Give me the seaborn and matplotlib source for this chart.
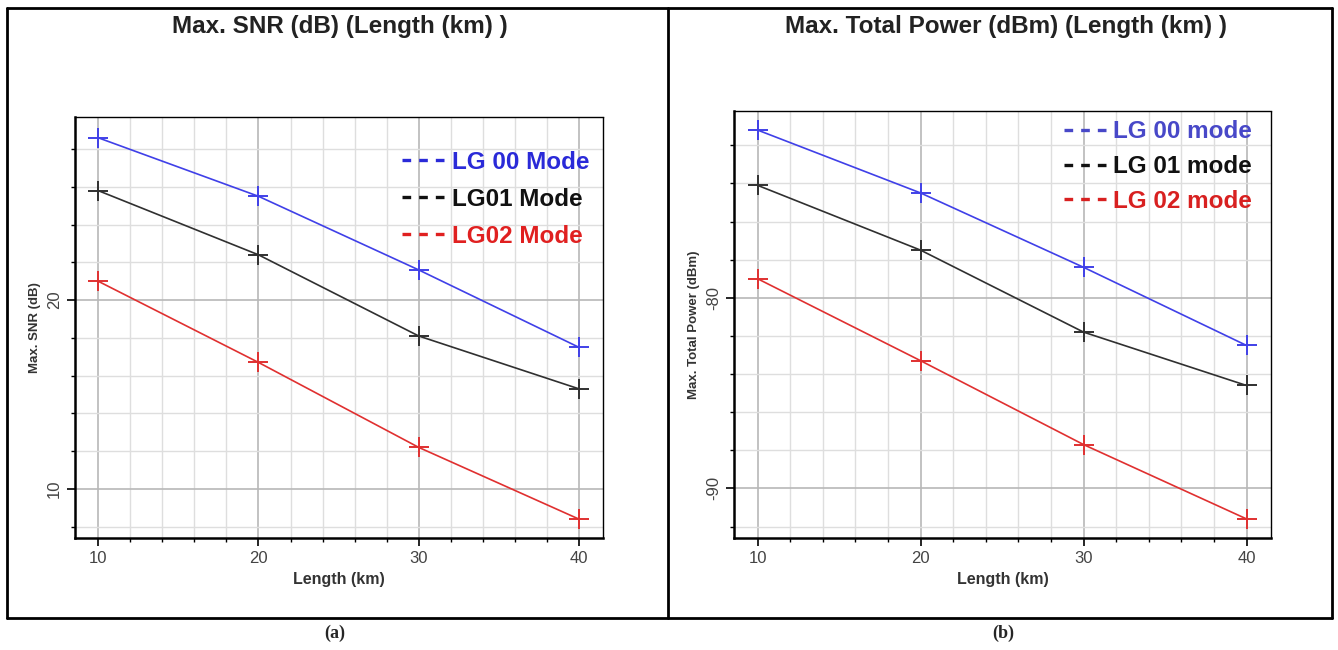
import numpy as np
import pandas as pd
import seaborn as sns
import matplotlib
matplotlib.use("Agg")
import matplotlib.pyplot as plt
from matplotlib.lines import Line2D
from matplotlib.ticker import MultipleLocator

sns.set_theme(style="white")
plt.rcParams['font.family'] = ['Liberation Sans', 'DejaVu Sans']
plt.rcParams['axes.unicode_minus'] = False

lengths = [10, 20, 30, 40]
snr_lg00 = [28.6, 25.5, 21.6, 17.5]
snr_lg01 = [25.8, 22.4, 18.1, 15.3]
snr_lg02 = [21.0, 16.7, 12.2, 8.4]
pow_lg00 = [-71.2, -74.5, -78.4, -82.5]
pow_lg01 = [-74.1, -77.5, -81.8, -84.6]
pow_lg02 = [-79.0, -83.3, -87.7, -91.6]
labels_a = ["LG 00 Mode", "LG01 Mode", "LG02 Mode"]
labels_b = ["LG 00 mode", "LG 01 mode", "LG 02 mode"]
series_keys = ["LG00", "LG01", "LG02"]
line_colors = {"LG00": "#4040e8", "LG01": "#303030", "LG02": "#e03030"}
legend_colors_a = ["#2a2ad8", "#111111", "#e02020"]
legend_colors_b = ["#4848c8", "#111111", "#d82020"]

def make_df(vals):
    rows = []
    for key, v in zip(series_keys, vals):
        for x, y in zip(lengths, v):
            rows.append({"Length": x, "Value": y, "Mode": key})
    return pd.DataFrame(rows)

df_a = make_df([snr_lg00, snr_lg01, snr_lg02])
df_b = make_df([pow_lg00, pow_lg01, pow_lg02])

fig = plt.figure(figsize=(13.38, 6.5), dpi=100)
W, H = 1338, 650

def px_axes(l, t, r, b):
    return fig.add_axes([l / W, 1 - b / H, (r - l) / W, (b - t) / H])

ax_a = px_axes(75, 117, 603, 538)
ax_b = px_axes(734, 111, 1271, 538)

def style_axes(ax, df, ylim, yticks, ylabel, labels, lcolors, leg_anchor, leg_size, leg_sp):
    sns.lineplot(data=df, x="Length", y="Value", hue="Mode", palette=line_colors,
                 hue_order=series_keys, marker="+", markersize=14, markeredgewidth=1.4,
                 linewidth=1.2, legend=False, ax=ax)
    for ln in ax.lines:
        ln.set_markeredgecolor(ln.get_color())
        ln.set_markerfacecolor(ln.get_color())
    ax.set_xlim(8.55, 41.5)
    ax.set_ylim(*ylim)
    ax.set_xticks(lengths)
    ax.set_yticks(yticks)
    ax.xaxis.set_minor_locator(MultipleLocator(2))
    ax.yaxis.set_minor_locator(MultipleLocator(2))
    ax.grid(which="minor", color="#dedede", linewidth=1.0)
    ax.grid(which="major", color="#b8b8b8", linewidth=1.2)
    ax.set_axisbelow(True)
    ax.tick_params(axis="both", which="major", direction="out", length=6, width=1.2,
                   color="black", labelsize=12, labelcolor="#444444", bottom=True, left=True)
    ax.tick_params(axis="both", which="minor", direction="out", length=3, width=1.0,
                   color="black", bottom=True, left=True)
    for lab in ax.get_yticklabels():
        lab.set_rotation(90)
        lab.set_va("center")
    for s in ["left", "bottom"]:
        ax.spines[s].set_visible(True)
        ax.spines[s].set_color("black")
        ax.spines[s].set_linewidth(1.8)
    for s in ["top", "right"]:
        ax.spines[s].set_visible(True)
        ax.spines[s].set_color("black")
        ax.spines[s].set_linewidth(1.0)
        ax.spines[s].set_linestyle((0, (1, 1)))
    ax.set_xlabel("Length (km)", fontsize=11.5, fontweight="bold", color="#333333", labelpad=4)
    ax.set_ylabel(ylabel, fontsize=9.5, fontweight="bold", color="#333333", labelpad=4)
    handles = [Line2D([0], [0], color=c, linestyle=(0, (2.6, 2.4)), linewidth=2.4)
               for c in lcolors]
    leg = ax.legend(handles, labels, loc="upper right", bbox_to_anchor=leg_anchor,
                    frameon=False, prop={"weight": "bold", "size": leg_size},
                    handlelength=1.75, handletextpad=0.3, labelspacing=leg_sp, borderpad=0,
                    borderaxespad=0)
    for t, c in zip(leg.get_texts(), lcolors):
        t.set_color(c)

style_axes(ax_a, df_a, (7.4, 29.7), [10, 20], "Max. SNR (dB)", labels_a,
           legend_colors_a, (0.975, 0.92), 17.5, 0.58)
style_axes(ax_b, df_b, (-92.6, -70.2), [-90, -80], "Max. Total Power (dBm)", labels_b,
           legend_colors_b, (0.965, 0.978), 17.5, 0.48)

fig.text(340 / W, 1 - 27 / H, "Max. SNR (dB) (Length (km) )", ha="center", va="center",
         fontsize=17.5, fontweight="bold", color="#222222")
fig.text(1006 / W, 1 - 27 / H, "Max. Total Power (dBm) (Length (km) )", ha="center",
         va="center", fontsize=17.5, fontweight="bold", color="#222222")

fig.text(335 / W, 1 - 633 / H, "(a)", ha="center", va="center", fontsize=13,
         fontweight="bold", family="Liberation Serif")
fig.text(1003 / W, 1 - 633 / H, "(b)", ha="center", va="center", fontsize=13,
         fontweight="bold", family="Liberation Serif")

# table borders
bx0, bx1, by0, by1, bmid = 7 / W, 1332 / W, 1 - 618 / H, 1 - 8 / H, 668 / W
for xs, ys in [([bx0, bx1], [by1, by1]), ([bx0, bx1], [by0, by0]),
               ([bx0, bx0], [by0, by1]), ([bx1, bx1], [by0, by1]),
               ([bmid, bmid], [by0, by1])]:
    fig.add_artist(Line2D(xs, ys, transform=fig.transFigure, color="black", linewidth=2.0))

fig.savefig("out.png", dpi=100)
